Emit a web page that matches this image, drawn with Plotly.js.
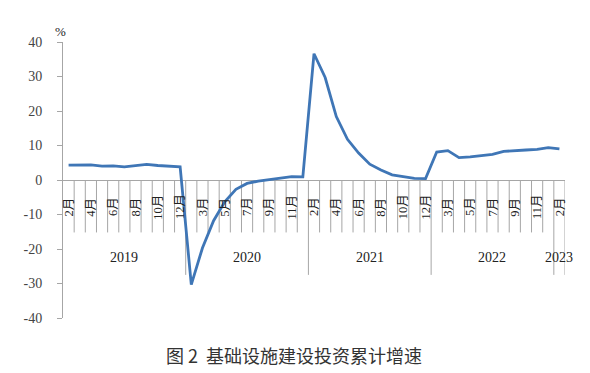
<!DOCTYPE html>
<html>
<head>
<meta charset="utf-8">
<script src="https://cdn.plot.ly/plotly-3.0.1.min.js"></script>
<style>html,body{margin:0;padding:0;background:#fff;}#chart{width:590px;height:373px;}</style>
</head>
<body>
<div id="chart"></div>
<script>
// ---- data ----
const years = ['2019', '2020', '2021', '2022', '2023'];
const months = ['2月', '3月', '4月', '5月', '6月', '7月', '8月', '9月', '10月', '11月', '12月'];
const monthsShownPerYear = [11, 11, 11, 11, 1];
const growth2019 = [4.3, 4.4, 4.4, 4.0, 4.1, 3.8, 4.2, 4.5, 4.2, 4.0, 3.8];
const growth2020 = [-30.3, -19.7, -11.8, -6.3, -2.7, -1.0, -0.3, 0.2, 0.7, 1.0, 0.9];
const growth2021 = [36.6, 29.7, 18.4, 11.8, 7.8, 4.6, 2.9, 1.5, 1.0, 0.5, 0.4];
const growth2022 = [8.1, 8.5, 6.5, 6.7, 7.1, 7.4, 8.3, 8.6, 8.7, 8.9, 9.4];
const growth2023 = [9.0];
const yTicks = [40, 30, 20, 10, 0, -10, -20, -30, -40];
const chartTitle = '图 2  基础设施建设投资累计增速';
const unitLabel = '%';
const labelEvery = 2;

// ---- build ----
const values = [].concat(growth2019, growth2020, growth2021, growth2022, growth2023);
const monthCats = [];
const yearStart = [];
monthsShownPerYear.forEach((n, k) => {
  yearStart.push(monthCats.length);
  for (let j = 0; j < n; j++) monthCats.push(months[j]);
});
const xs = monthCats.map((_, i) => i);
const N = monthCats.length;

const gridColor = '#a6a6a6';
const textColor = '#222';
const numFont = 'Liberation Serif, Noto Sans CJK SC, serif';

const shapes = [];
const annotations = [];
// month boundary lines
for (let i = 1; i <= N; i++) {
  const isYear = yearStart.includes(i) || i === N;
  shapes.push({type: 'line', xref: 'x', yref: 'y', x0: i - 0.5, x1: i - 0.5,
    y0: 0, y1: isYear ? -27.5 : -15.2, layer: 'below',
    line: {color: gridColor, width: 1}});
}
// month labels
monthCats.forEach((m, i) => {
  if (i % labelEvery !== 0) return;
  annotations.push({xref: 'x', yref: 'y', x: i, y: -7.8, text: m, showarrow: false,
    textangle: -90, font: {family: numFont, size: 12.5, color: textColor}});
});
// year labels
years.forEach((yr, k) => {
  const s = yearStart[k], n = monthsShownPerYear[k];
  annotations.push({xref: 'x', yref: 'y', x: s + (n - 1) / 2, y: -22.6, text: yr, showarrow: false,
    font: {family: numFont, size: 14, color: textColor}});
});
annotations.push({xref: 'paper', yref: 'paper', x: -0.005, y: 1.038, text: unitLabel, showarrow: false,
  xanchor: 'center', yanchor: 'middle',
  font: {family: numFont, size: 13, color: textColor}});
annotations.push({xref: 'paper', yref: 'paper', x: 0.46, y: -0.135, text: chartTitle, showarrow: false,
  xanchor: 'center', yanchor: 'middle',
  font: {family: 'Noto Sans CJK SC, sans-serif', size: 18, color: '#333'}});

const trace = {
  x: xs, y: values, type: 'scatter', mode: 'lines',
  line: {color: '#3f76b6', width: 2.8},
  hoverinfo: 'skip'
};

const layout = {
  width: 590, height: 373,
  margin: {l: 63, r: 25, t: 42, b: 55},
  paper_bgcolor: '#fff', plot_bgcolor: '#fff',
  showlegend: false,
  xaxis: {range: [-0.5, N - 0.5], showticklabels: false, showgrid: false, zeroline: false,
    showline: false, ticks: '', fixedrange: true},
  yaxis: {range: [-40, 40], tickvals: yTicks, ticktext: yTicks.map(String), showgrid: false,
    zeroline: true, zerolinecolor: gridColor, zerolinewidth: 1,
    showline: true, linecolor: gridColor, linewidth: 1,
    ticks: 'outside', ticklen: 5, tickcolor: gridColor, ticklabelstandoff: 12,
    tickfont: {family: numFont, size: 14, color: '#444'}},
  shapes: shapes,
  annotations: annotations
};

Plotly.newPlot('chart', [trace], layout, {staticPlot: true, displayModeBar: false});
</script>
</body>
</html>
